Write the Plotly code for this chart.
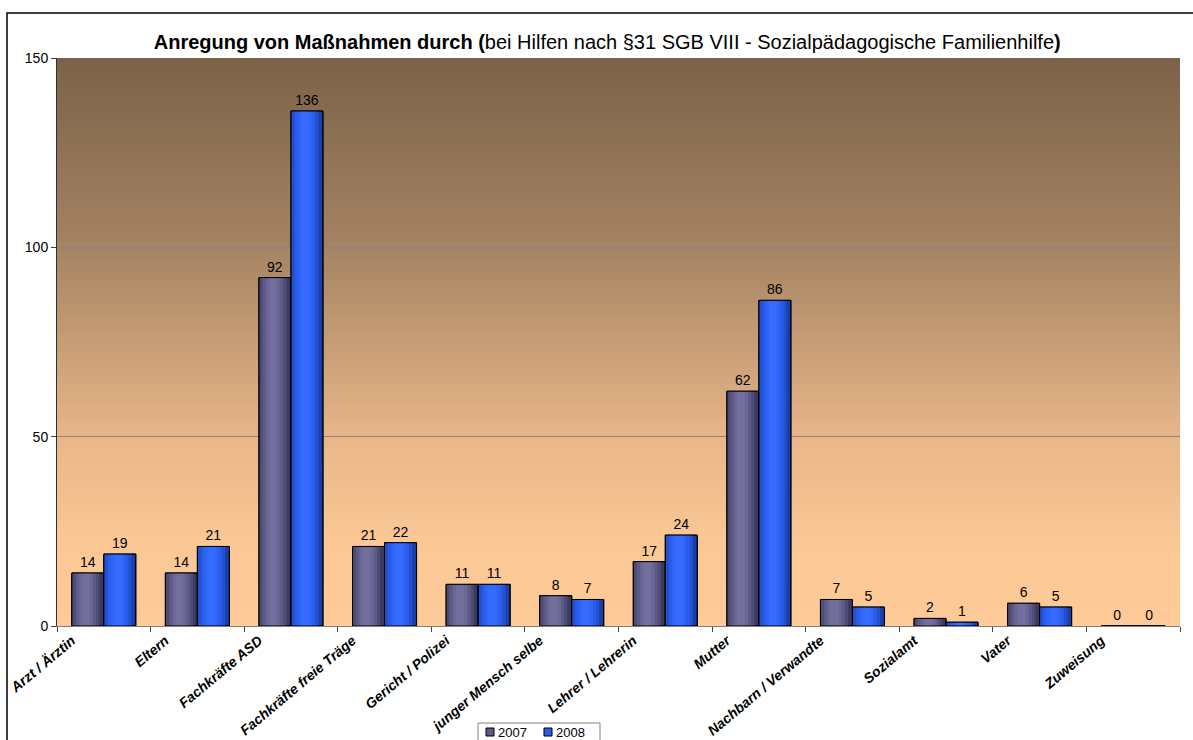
import plotly.graph_objects as go

# Categories and counts per year
categories = [
    "Arzt / Ärztin", "Eltern", "Fachkräfte ASD", "Fachkräfte freie Träge",
    "Gericht / Polizei", "junger Mensch selbe", "Lehrer / Lehrerin", "Mutter",
    "Nachbarn / Verwandte", "Sozialamt", "Vater", "Zuweisung",
]
values_2007 = [14, 14, 92, 21, 11, 8, 17, 62, 7, 2, 6, 0]
values_2008 = [19, 21, 136, 22, 11, 7, 24, 86, 5, 1, 5, 0]
series_names = ["2007", "2008"]
y_ticks = [0, 50, 100, 150]

FONT = "Liberation Sans, Arial, sans-serif"
BAR_W = 0.342
COL_2007 = "#5C5888"
COL_2008 = "#2A5CEA"

# plot area in pixels (for placing the hand-drawn legend)
W, H = 1193, 740
ML, MR, MT, MB = 57, 13, 58, 114
PW, PH = W - ML - MR, H - MT - MB


def px_x(x):
    return (x - ML) / PW


def px_y(y):
    return (H - MB - y) / PH


fig = go.Figure()


def cylinder(values, offset, base_col, shades, name):
    # base fill
    fig.add_trace(go.Bar(
        x=categories, y=values, name=name, width=BAR_W, offset=offset,
        marker=dict(color=base_col, line=dict(color="#000000", width=1)),
        showlegend=False, hoverinfo="skip",
    ))
    # lighter inner bands give a rounded look
    for frac, col in shades:
        w = BAR_W * frac
        fig.add_trace(go.Bar(
            x=categories, y=values, width=w,
            offset=offset + BAR_W * 0.44 - w / 2,
            marker=dict(color=col, line=dict(width=0)),
            showlegend=False, hoverinfo="skip",
        ))
    # outline and value labels on top
    fig.add_trace(go.Bar(
        x=categories, y=values, width=BAR_W, offset=offset,
        marker=dict(color="rgba(0,0,0,0)", line=dict(color="#000000", width=1)),
        text=[str(v) for v in values], textposition="outside",
        textfont=dict(family=FONT, size=14, color="#000000"),
        cliponaxis=False, showlegend=False, hoverinfo="skip",
    ))


cylinder(values_2007, -BAR_W, "#3C3A5E",
         [(0.85, "#4E4B75"), (0.65, "#5E5A88"), (0.45, "#6A6696"), (0.25, "#726E9E")],
         series_names[0])
cylinder(values_2008, 0.0, "#1B3FA8",
         [(0.85, "#2250D0"), (0.65, "#2A5CEA"), (0.45, "#2E64F8"), (0.25, "#356CFF")],
         series_names[1])

# vertical gradient behind the plot area
stops = [
    (0.00, (253, 202, 152)),
    (0.15, (250, 199, 149)),
    (0.333, (232, 182, 136)),
    (0.667, (165, 131, 99)),
    (1.00, (123, 98, 73)),
]


def grad(t):
    for (t0, c0), (t1, c1) in zip(stops[:-1], stops[1:]):
        if t0 <= t <= t1:
            f = (t - t0) / (t1 - t0)
            return "rgb(%d,%d,%d)" % tuple(round(a + (b - a) * f) for a, b in zip(c0, c1))
    return "rgb(%d,%d,%d)" % stops[-1][1]


shapes = []
n = 120
for i in range(n):
    y0 = i / n
    y1 = (i + 1) / n + 0.002
    shapes.append(dict(
        type="rect", xref="x domain", yref="y domain",
        x0=0, x1=1, y0=y0, y1=min(y1, 1), layer="below",
        fillcolor=grad((i + 0.5) / n), line=dict(width=0),
    ))

# outer frame
shapes.append(dict(
    type="rect", xref="paper", yref="paper",
    x0=px_x(7), x1=px_x(1196), y0=px_y(745), y1=px_y(13),
    line=dict(color="#000000", width=1.5), fillcolor="rgba(0,0,0,0)",
))

# legend box with two keys
annotations = []
shapes.append(dict(
    type="rect", xref="paper", yref="paper",
    x0=px_x(478), x1=px_x(600), y0=px_y(745), y1=px_y(723),
    line=dict(color="#808080", width=1), fillcolor="#FFFFFF",
))
for name, col, mx in [(series_names[0], COL_2007, 486), (series_names[1], COL_2008, 544)]:
    shapes.append(dict(
        type="rect", xref="paper", yref="paper",
        x0=px_x(mx), x1=px_x(mx + 8), y0=px_y(736), y1=px_y(728),
        line=dict(color="#000000", width=1), fillcolor=col,
    ))
    annotations.append(dict(
        text=name, xref="paper", yref="paper", x=px_x(mx + 10), y=px_y(732),
        xanchor="left", yanchor="middle", showarrow=False,
        font=dict(family=FONT, size=13, color="#000000"),
    ))

fig.update_layout(
    width=W, height=H,
    margin=dict(l=ML, r=MR, t=MT, b=MB),
    paper_bgcolor="#FFFFFF",
    plot_bgcolor="rgba(0,0,0,0)",
    barmode="overlay",
    showlegend=False,
    shapes=shapes,
    annotations=annotations,
    title=dict(
        text="<b>Anregung von Maßnahmen durch (</b>bei Hilfen nach §31 SGB VIII - "
             "Sozialpädagogische Familienhilfe<b>)</b>",
        x=0.509, xanchor="center", y=0.943, yanchor="middle",
        font=dict(family=FONT, size=20, color="#000000"),
    ),
    font=dict(family=FONT, size=12, color="#000000"),
    xaxis=dict(
        type="category", tickson="boundaries", ticks="outside", ticklen=5,
        tickcolor="#404040", showline=True, linecolor="#808080", linewidth=1,
        tickangle=-40, showgrid=False, automargin=False,
        ticklabelshift=-32,
        tickfont=dict(family=FONT, size=14, color="#000000", style="italic", weight="bold"),
        range=[-0.5, 11.5],
    ),
    yaxis=dict(
        range=[0, 150], tickvals=y_ticks, ticks="outside", ticklen=5,
        tickcolor="#404040", showline=True, linecolor="#303030", linewidth=1,
        showgrid=True, gridcolor="#888480", gridwidth=1, zeroline=False,
        automargin=False,
        tickfont=dict(family=FONT, size=14, color="#000000"),
    ),
)

fig.write_html("out.html")
